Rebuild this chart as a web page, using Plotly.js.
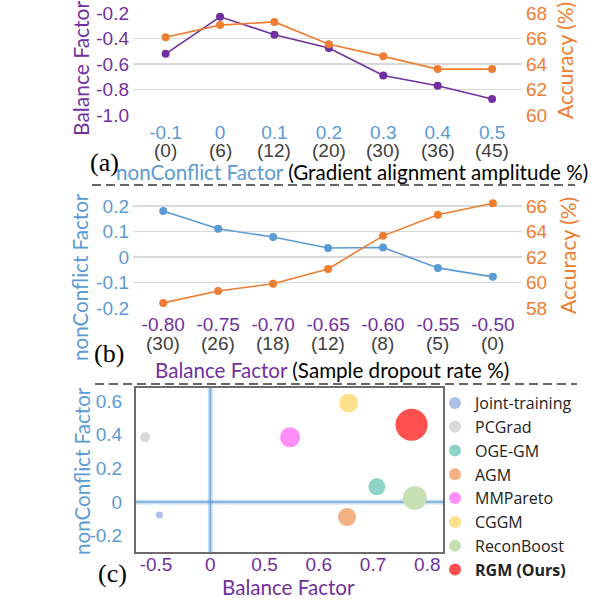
<!DOCTYPE html>
<html><head><meta charset="utf-8">
<script src="https://cdn.plot.ly/plotly-3.0.1.min.js"></script>
<style>body{margin:0;background:#fff}#c{width:595px;height:601px}</style>
</head><body><div id="c"></div>
<script>
// ---- Panel (a) ----
const aCats = ['-0.1','0','0.1','0.2','0.3','0.4','0.5'];
const aSub = [0,6,12,20,30,36,45];
const aBalance = [-0.52,-0.23,-0.37,-0.475,-0.69,-0.77,-0.875];
const aAcc = [66.1,67.05,67.3,65.55,64.6,63.6,63.6];
const aLeftTicks = [-1.0,-0.8,-0.6,-0.4,-0.2];
const aRightTicks = [60,62,64,66,68];
// ---- Panel (b) ----
const bCats = ['-0.80','-0.75','-0.70','-0.65','-0.60','-0.55','-0.50'];
const bSub = [30,26,18,12,8,5,0];
const bNonConflict = [0.18,0.11,0.078,0.035,0.037,-0.043,-0.078];
const bAcc = [58.4,59.33,59.9,61.06,63.65,65.3,66.2];
const bLeftTicks = [-0.2,-0.1,0,0.1,0.2];
const bRightTicks = [58,60,62,64,66];
// ---- Panel (c) ----
const methods = ['Joint-training','PCGrad','OGE-GM','AGM','MMPareto','CGGM','ReconBoost','RGM (Ours)'];
const cBalance = [-0.47,-0.6,0.707,0.652,0.547,0.655,0.777,0.771];
const cNonConflict = [-0.077,0.385,0.09,-0.09,0.385,0.59,0.024,0.46];
const cXTicks = [-0.5,0,0.5,0.6,0.7,0.8];
const cYTicks = [-0.2,0,0.2,0.4,0.6];

// styles
const PURPLE='#7030a0', ORANGE='#ed7d31', BLUE='#5b9bd5', GRAY='#404040';
const methodColors = ['#adc0e6','#d9d9d9','#8ed3c8','#f4b183','#ff8ff8','#ffe08c','#c6e0b4','#ff5050'];
const bubbleSizes = [7,10,17,18,20,19,24,32];
const W=595,H=601;
const px=v=>v/W, py=v=>1-v/H;
const TF='Liberation Sans, Arial, sans-serif', LF='Lato, sans-serif';
const fmt=v=>v===0?'0':v.toFixed(1);

// broken axis mapping for panel (c): equal spacing between listed ticks
function mapX(v){
  const b=cXTicks;
  if(v<=b[1]) return (v-b[0])/(b[1]-b[0]);
  for(let i=1;i<b.length-1;i++){ if(v<=b[i+1]) return i+(v-b[i])/(b[i+1]-b[i]); }
  const n=b.length-1; return n+(v-b[n])/(b[n]-b[n-1]);
}

const line=(x,y,c,xa,ya)=>({x,y,xaxis:xa,yaxis:ya,type:'scatter',mode:'lines+markers',
  line:{color:c,width:1.6},marker:{color:c,size:8},showlegend:false,cliponaxis:false});

const data=[
  line(aCats,aBalance,PURPLE,'x','y'),
  line(aCats,aAcc,ORANGE,'x','y2'),
  line(bCats,bNonConflict,BLUE,'x2','y3'),
  line(bCats,bAcc,ORANGE,'x2','y4'),
];
methods.forEach((m,i)=>{
  data.push({x:[mapX(cBalance[i])],y:[cNonConflict[i]],xaxis:'x3',yaxis:'y5',type:'scatter',mode:'markers',
    name: i===methods.length-1?'<b>'+m+'</b>':m,
    marker:{color:methodColors[i],size:bubbleSizes[i],line:{width:0}},cliponaxis:false});
});

const ann=[];
const A=(o)=>ann.push(Object.assign({showarrow:false,xref:'paper',yref:'paper',xanchor:'center',yanchor:'middle'},o));
aSub.forEach((s,i)=>A({x:i,xref:'x',y:py(150),text:'('+s+')',font:{family:TF,size:19,color:GRAY}}));
bSub.forEach((s,i)=>A({x:i,xref:'x2',y:py(343),text:'('+s+')',font:{family:TF,size:19,color:GRAY}}));
A({x:px(352),y:py(172),text:"<span style='color:"+BLUE+"'>nonConflict Factor</span> (Gradient alignment amplitude %)",font:{family:LF,size:20.6,color:'#000'}});
A({x:px(332),y:py(370),text:"<span style='color:"+PURPLE+"'>Balance Factor</span> (Sample dropout rate %)",font:{family:LF,size:20.6,color:'#000'}});
A({x:px(288),y:py(587),text:'Balance Factor',font:{family:LF,size:20.6,color:PURPLE}});
A({x:px(80),y:py(69),text:'Balance Factor',textangle:-90,font:{family:LF,size:21,color:PURPLE}});
A({x:px(80),y:py(277),text:'nonConflict Factor',textangle:-90,font:{family:LF,size:20.6,color:BLUE}});
A({x:px(82),y:py(471),text:'nonConflict Factor',textangle:-90,font:{family:LF,size:20.6,color:BLUE}});
A({x:px(564),y:py(61),text:'Accuracy (%)',textangle:-90,font:{family:LF,size:21,color:ORANGE}});
A({x:px(567),y:py(256),text:'Accuracy (%)',textangle:-90,font:{family:LF,size:21,color:ORANGE}});
A({x:px(104),y:py(162),text:'(a)',font:{family:'Liberation Serif, serif',size:26,color:'#000'}});
A({x:px(109),y:py(353),text:'(b)',font:{family:'Liberation Serif, serif',size:26,color:'#000'}});
A({x:px(112),y:py(573),text:'(c)',font:{family:'Liberation Serif, serif',size:26,color:'#000'}});

const shapes=[
  {type:'line',xref:'paper',yref:'paper',x0:px(92),x1:px(575),y0:py(185),y1:py(185),line:{color:'#333',width:1.5,dash:'9px,5px'}},
  {type:'line',xref:'paper',yref:'paper',x0:px(95),x1:px(577),y0:py(384),y1:py(384),line:{color:'#333',width:1.5,dash:'9px,5px'}},
  {type:'line',xref:'x3',yref:'y5 domain',x0:mapX(0),x1:mapX(0),y0:0,y1:1,layer:'below',line:{color:'rgba(91,155,213,0.3)',width:5}},
  {type:'line',xref:'x3',yref:'y5 domain',x0:mapX(0),x1:mapX(0),y0:0,y1:1,layer:'below',line:{color:'rgba(91,155,213,0.8)',width:1.5}},
  {type:'line',xref:'x3 domain',yref:'y5',x0:0,x1:1,y0:0,y1:0,layer:'below',line:{color:'rgba(91,155,213,0.3)',width:5}},
  {type:'line',xref:'x3 domain',yref:'y5',x0:0,x1:1,y0:0,y1:0,layer:'below',line:{color:'rgba(91,155,213,0.8)',width:1.5}},
];

const tf=(c)=>({family:TF,size:19,color:c});
const layout={
  width:W,height:H,margin:{l:0,r:0,t:0,b:0},paper_bgcolor:'#fff',plot_bgcolor:'rgba(0,0,0,0)',
  showlegend:true,
  legend:{x:px(435),xanchor:'left',y:py(386),yanchor:'top',font:{family:'Open Sans, sans-serif',size:16,color:'#222'},itemsizing:'constant',bgcolor:'rgba(0,0,0,0)',tracegroupgap:0},
  xaxis:{type:'category',domain:[px(133),px(522)],anchor:'y',range:[-0.6,6.55],showgrid:false,zeroline:false,ticks:'',tickfont:tf(BLUE),ticklabelstandoff:4},
  yaxis:{domain:[py(115),py(13)],range:[-1.0,-0.2],tickvals:aLeftTicks,ticktext:aLeftTicks.map(v=>v.toFixed(1)),gridcolor:'#d9d9d9',gridwidth:1.3,zeroline:false,tickfont:tf(PURPLE),ticklabelstandoff:3},
  yaxis2:{overlaying:'y',side:'right',anchor:'x',range:[60,68],tickvals:aRightTicks,showgrid:false,zeroline:false,tickfont:tf(ORANGE),ticklabelstandoff:3},
  xaxis2:{type:'category',domain:[px(133),px(522)],anchor:'y3',range:[-0.55,6.53],showgrid:false,zeroline:false,ticks:'',tickfont:tf(PURPLE),ticklabelstandoff:3},
  yaxis3:{domain:[py(308),py(201.6)],anchor:'x2',range:[-0.2,0.2167],tickvals:bLeftTicks,ticktext:bLeftTicks.map(fmt),gridcolor:'#d9d9d9',gridwidth:1.3,zeroline:false,tickfont:tf(BLUE),ticklabelstandoff:3},
  yaxis4:{overlaying:'y3',side:'right',anchor:'x2',range:[58,66.333],tickvals:bRightTicks,showgrid:false,zeroline:false,tickfont:tf(ORANGE),ticklabelstandoff:3},
  xaxis3:{domain:[px(136),px(443)],anchor:'y5',range:[-0.37,5.29],tickvals:cXTicks.map(mapX),ticktext:cXTicks.map(fmt),showgrid:false,zeroline:false,ticks:'',tickfont:tf(PURPLE),showline:true,mirror:true,linecolor:'#6b6b6b',linewidth:2,ticklabelstandoff:-6},
  yaxis5:{domain:[py(552),py(388)],anchor:'x3',range:[-0.298,0.679],tickvals:cYTicks,ticktext:cYTicks.map(fmt),showgrid:false,zeroline:false,ticks:'',tickfont:tf(BLUE),showline:true,mirror:true,linecolor:'#6b6b6b',linewidth:2,ticklabelstandoff:8},
  annotations:ann,shapes:shapes
};
Plotly.newPlot('c',data,layout,{staticPlot:true});
</script></body></html>
